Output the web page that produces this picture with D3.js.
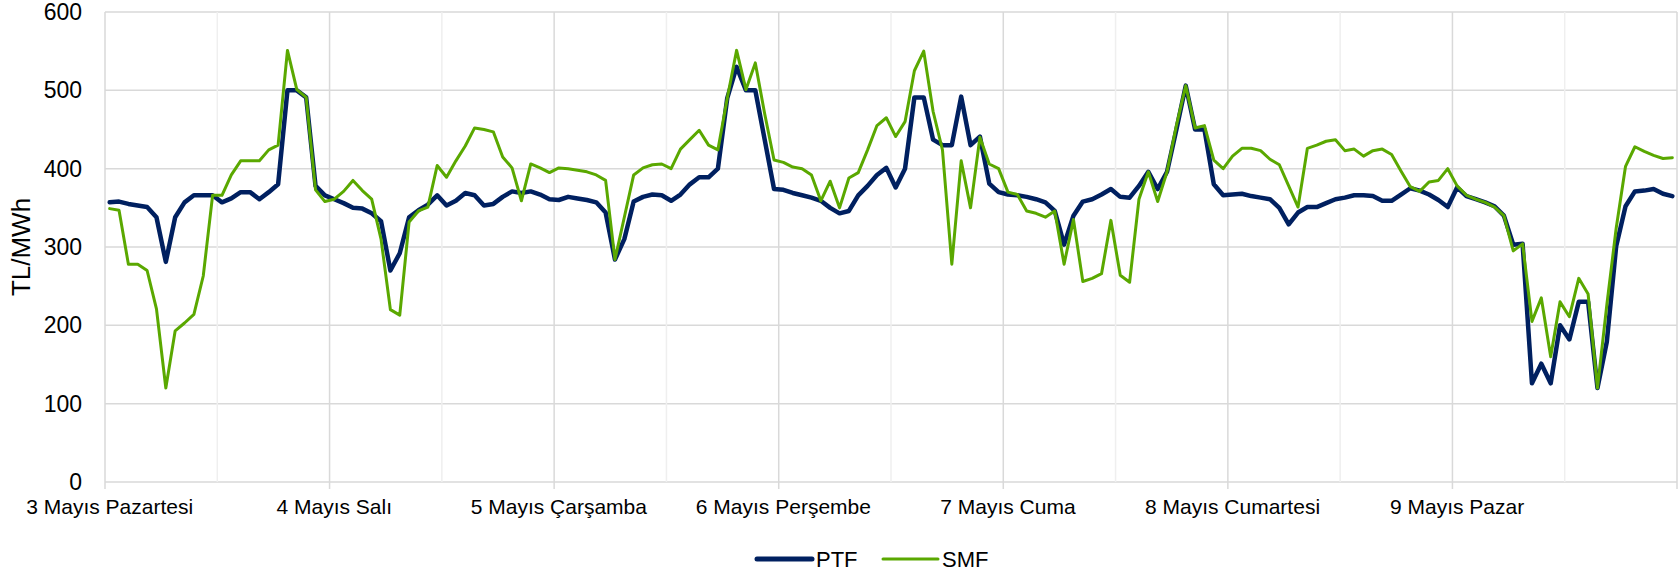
<!DOCTYPE html>
<html>
<head>
<meta charset="utf-8">
<script src="https://cdn.jsdelivr.net/npm/d3@7"></script>
<style>
  body { margin: 0; background: #fff; }
  svg { display: block; font-family: Arial, "Liberation Sans", sans-serif; }
</style>
</head>
<body>
<div id="chart"></div>
<script>
const days = ['3 Mayıs Pazartesi', '4 Mayıs Salı', '5 Mayıs Çarşamba', '6 Mayıs Perşembe',
  '7 Mayıs Cuma', '8 Mayıs Cumartesi', '9 Mayıs Pazar'];

const yTicks = [0, 100, 200, 300, 400, 500, 600];

// hourly prices, 7 days x 24 hours
const ptf = [
  357, 358, 355, 353, 351, 338, 281, 338, 357, 366, 366, 366, 357, 362, 370, 370, 361, 370, 380, 500, 500, 491, 378, 366,
  361, 356, 350, 349, 343, 333, 270, 292, 338, 347, 354, 366, 353, 359, 369, 366, 353, 355, 364, 371, 369, 371, 367, 361,
  360, 364, 362, 360, 357, 344, 284, 310, 358, 364, 367, 366, 359, 367, 380, 389, 389, 400, 490, 530, 500, 500, 437, 374,
  373, 369, 366, 363, 359, 350, 343, 346, 366, 378, 392, 401, 376, 400, 491, 491, 437, 430, 430, 492, 430, 441, 381, 370,
  367, 366, 364, 361, 357, 346, 303, 340, 358, 361, 367, 374, 364, 363, 378, 396, 374, 396, 450, 506, 450, 450, 380, 366,
  367, 368, 365, 363, 361, 350, 329, 344, 351, 351, 356, 361, 363, 366, 366, 365, 359, 359, 367, 375, 372, 367, 360, 351,
  376, 365, 361, 357, 352, 340, 303, 304, 126, 151, 126, 200, 182, 230, 230, 120, 179, 301, 352, 371, 372, 374, 368, 365
];

const smf = [
  349, 347, 278, 278, 270, 221, 120, 193, 203, 214, 263, 366, 366, 392, 410, 410, 410, 424, 430, 551, 501, 491, 373, 358,
  361, 371, 385, 372, 361, 310, 220, 213, 332, 346, 351, 404, 389, 410, 429, 452, 450, 447, 415, 401, 359, 406, 401, 395,
  401, 400, 398, 396, 392, 385, 284, 338, 392, 401, 405, 406, 400, 425, 437, 449, 430, 424, 490, 551, 501, 535, 470, 411,
  408, 402, 400, 392, 359, 384, 350, 388, 395, 424, 455, 465, 441, 460, 525, 550, 473, 424, 278, 410, 350, 440, 406, 400,
  370, 367, 346, 343, 338, 346, 278, 335, 256, 260, 266, 334, 264, 255, 361, 396, 358, 396, 455, 506, 452, 455, 411, 400,
  416, 426, 426, 423, 412, 405, 378, 351, 426, 430, 435, 437, 423, 425, 416, 423, 425, 418, 397, 377, 371, 383, 385, 400,
  378, 366, 361, 357, 351, 340, 295, 304, 205, 235, 160, 230, 211, 260, 240, 120, 226, 324, 403, 428, 422, 417, 413, 414
];

const seriesNames = ['PTF', 'SMF'];
const colors = { PTF: '#002060', SMF: '#5aa800' };

const width = 1679;
const height = 577;
const margin = { top: 12, right: 2, bottom: 95, left: 105 };

const svg = d3.select('#chart')
  .append('svg')
  .attr('width', width)
  .attr('height', height);

const hours = d3.range(ptf.length);

const x = d3.scaleBand()
  .domain(hours)
  .range([margin.left, width - margin.right])
  .padding(0);

const y = d3.scaleLinear()
  .domain([0, 600])
  .range([height - margin.bottom, margin.top]);

const cx = i => x(i) + x.bandwidth() / 2;

// horizontal grid
svg.append('g')
  .selectAll('line')
  .data(yTicks)
  .join('line')
  .attr('x1', margin.left)
  .attr('x2', width - margin.right)
  .attr('y1', d => y(d))
  .attr('y2', d => y(d))
  .attr('stroke', '#d9d9d9')
  .attr('stroke-width', 1.5);

// vertical grid: half days light, day borders darker with tick
const vlines = hours.filter(i => i % 12 === 0).concat([ptf.length]);
const vx = i => i < ptf.length ? x(i) : width - margin.right;

svg.append('g')
  .selectAll('line')
  .data(vlines)
  .join('line')
  .attr('x1', d => vx(d))
  .attr('x2', d => vx(d))
  .attr('y1', margin.top)
  .attr('y2', d => d % 24 === 0 ? y(0) + 7 : y(0))
  .attr('stroke', d => d % 24 === 0 ? '#d9d9d9' : '#efefef')
  .attr('stroke-width', 1.5);

// y labels
svg.append('g')
  .selectAll('text')
  .data(yTicks)
  .join('text')
  .attr('x', margin.left - 23)
  .attr('y', d => y(d))
  .attr('dy', '0.35em')
  .attr('text-anchor', 'end')
  .style('font-size', '23px')
  .style('fill', '#000')
  .text(d => d);

// y title
svg.append('text')
  .attr('transform', `translate(30,${(y(0) + y(600)) / 2}) rotate(-90)`)
  .attr('text-anchor', 'middle')
  .style('font-size', '26px')
  .text('TL/MWh');

// x labels
svg.append('g')
  .selectAll('text')
  .data(days)
  .join('text')
  .attr('x', (d, i) => cx(i * 24))
  .attr('y', y(0) + 25)
  .attr('dy', '0.35em')
  .attr('text-anchor', 'middle')
  .style('font-size', '21px')
  .text(d => d);

// lines
const line = d3.line()
  .x((d, i) => cx(i))
  .y(d => y(d));

svg.append('path')
  .datum(ptf)
  .attr('d', line)
  .attr('fill', 'none')
  .attr('stroke', colors.PTF)
  .attr('stroke-width', 4.5)
  .attr('stroke-linejoin', 'round')
  .attr('stroke-linecap', 'round');

svg.append('path')
  .datum(smf)
  .attr('d', line)
  .attr('fill', 'none')
  .attr('stroke', colors.SMF)
  .attr('stroke-width', 3)
  .attr('stroke-linejoin', 'round')
  .attr('stroke-linecap', 'round');

// legend
const legend = svg.append('g')
  .attr('transform', 'translate(757,559)');

const legendX = [0, 126];
seriesNames.forEach((name, i) => {
  const g = legend.append('g').attr('transform', `translate(${legendX[i]},0)`);
  g.append('line')
    .attr('x1', 0)
    .attr('x2', 55)
    .attr('stroke', colors[name])
    .attr('stroke-width', name === 'PTF' ? 5 : 3)
    .attr('stroke-linecap', 'round');
  g.append('text')
    .attr('x', 59)
    .attr('dy', '0.35em')
    .style('font-size', '22px')
    .text(name);
});
</script>
</body>
</html>
